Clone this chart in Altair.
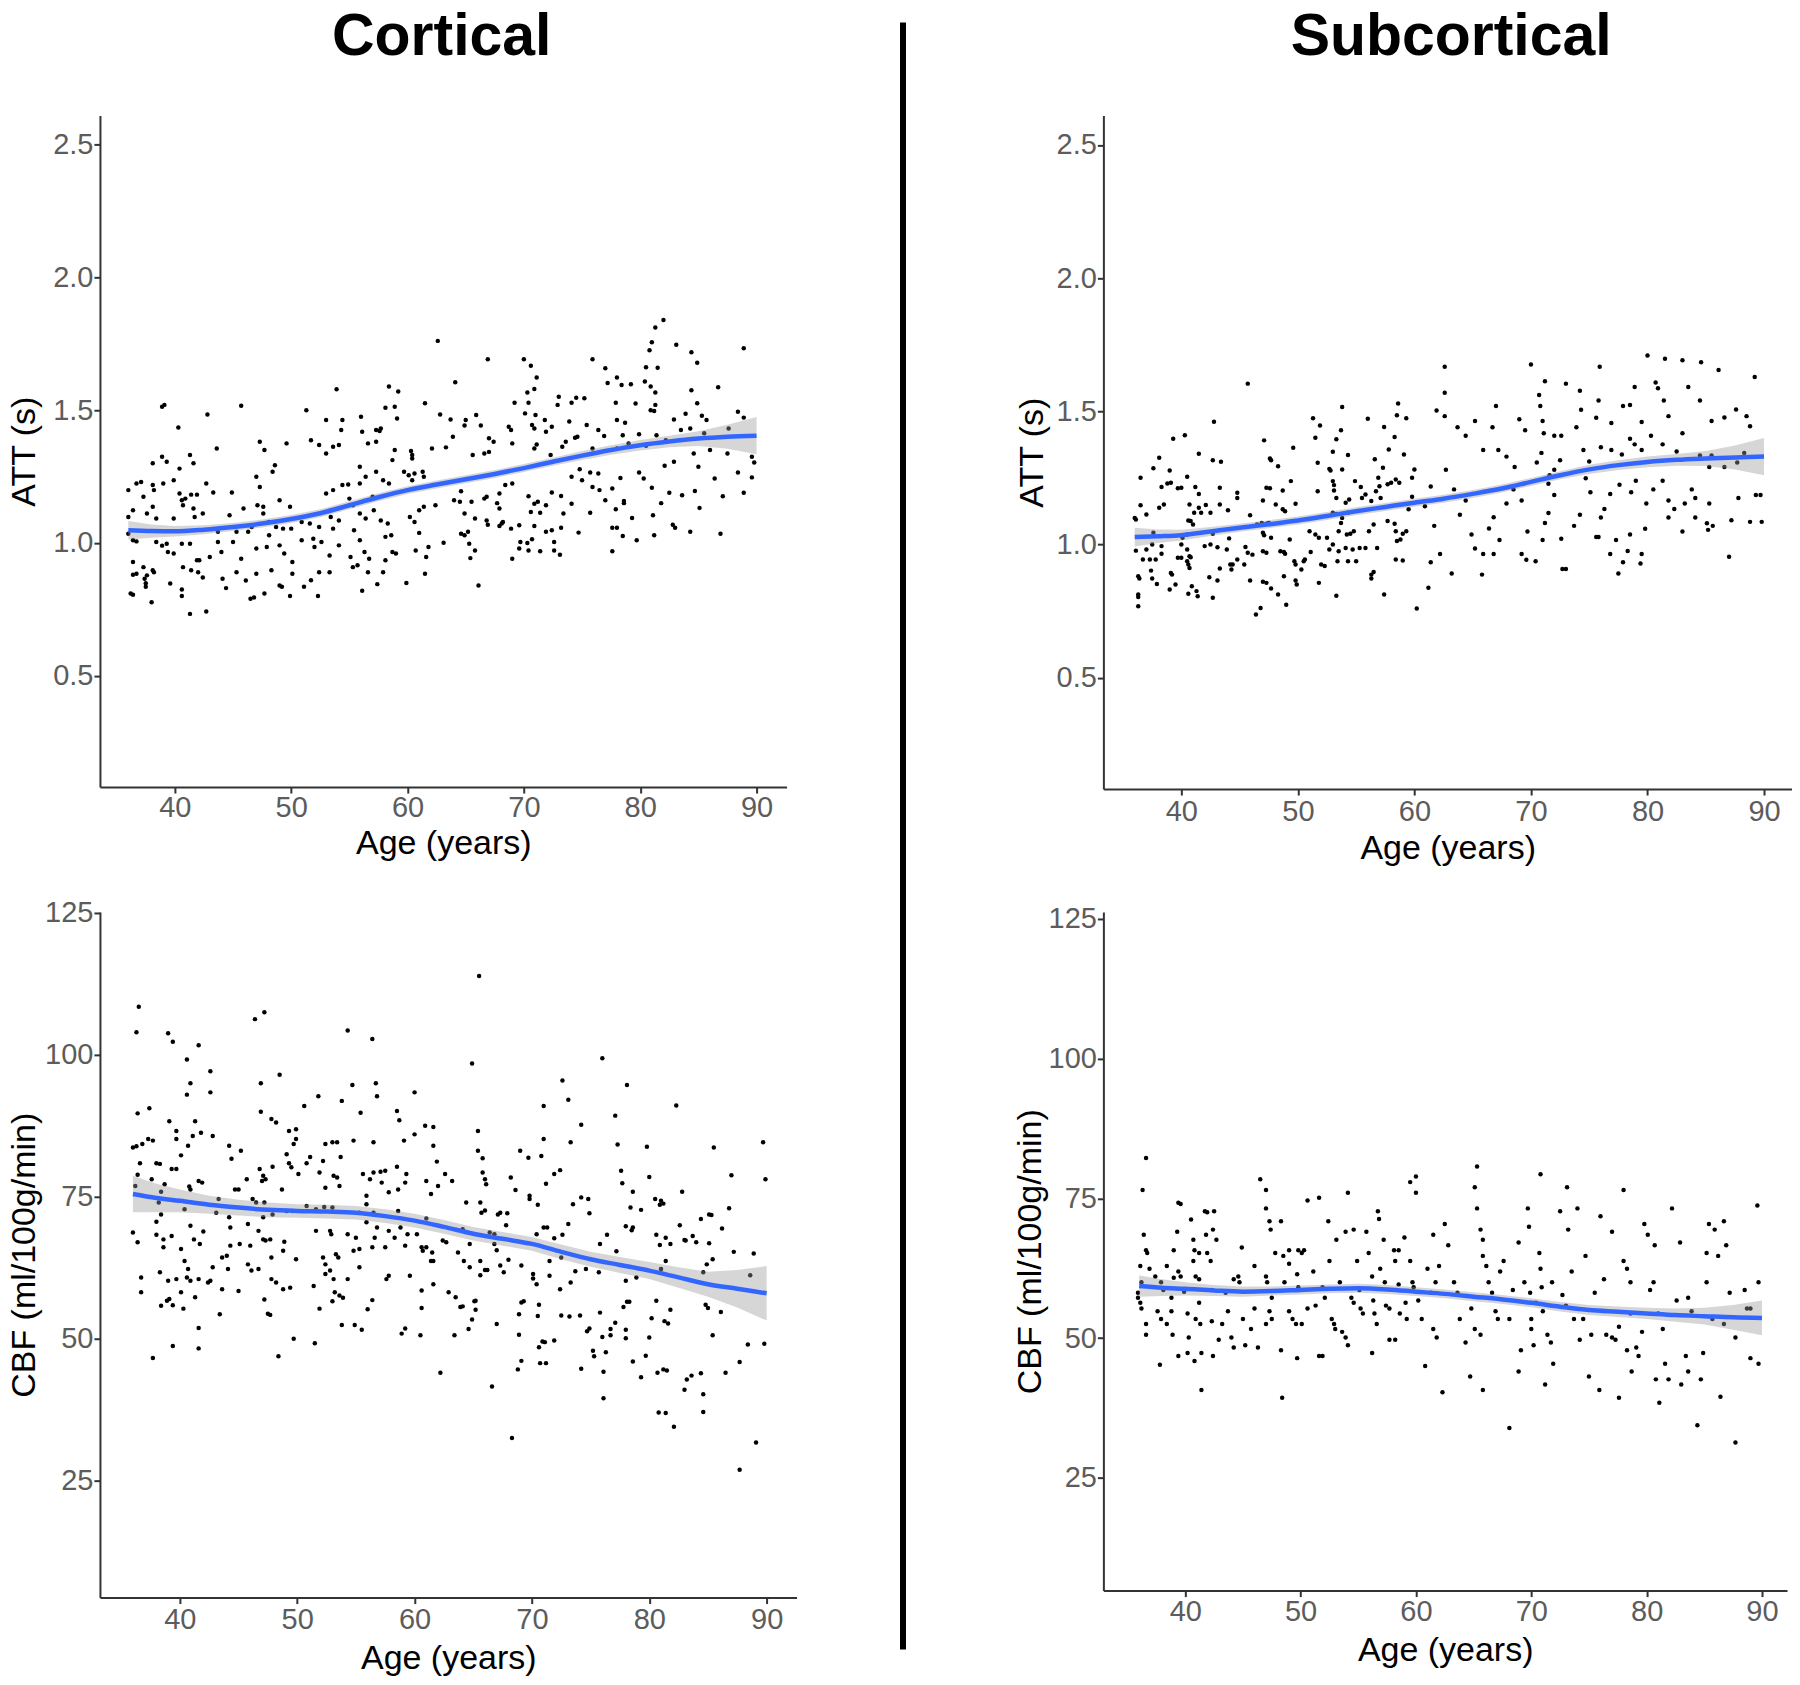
import altair as alt
import pandas as pd

# ---------------- data ----------------
X_TICKS = [40, 50, 60, 70, 80, 90]
ATT_TICKS = [0.5, 1.0, 1.5, 2.0, 2.5]
CBF_TICKS = [25, 50, 75, 100, 125]
PANEL_TITLES = ["Cortical", "Subcortical"]

LINE_AGES = [36, 38, 40, 42.5, 45, 47.5, 50, 52.5, 55, 57.5, 60, 62.5, 65, 67.5, 70, 72.5, 75, 77.5, 80, 82.5, 85, 87.5, 90]

TL_FIT = [1.048, 1.045, 1.044, 1.05, 1.06, 1.073, 1.09, 1.112, 1.142, 1.172, 1.199, 1.22, 1.24, 1.26, 1.282, 1.306, 1.329, 1.35, 1.368, 1.382, 1.393, 1.4, 1.404]
TL_HW = [0.035, 0.025, 0.02, 0.017, 0.015, 0.015, 0.015, 0.015, 0.015, 0.015, 0.015, 0.015, 0.015, 0.015, 0.015, 0.015, 0.017, 0.018, 0.02, 0.022, 0.028, 0.045, 0.07]

BL_FIT = [75.5, 74.8, 74.3, 73.6, 73.1, 72.7, 72.5, 72.4, 72.2, 71.6, 70.8, 69.7, 68.5, 67.6, 66.7, 65.3, 64.0, 63.0, 62.0, 60.8, 59.6, 58.8, 58.0]
BL_HW = [3.2, 2.5, 2.0, 1.6, 1.4, 1.3, 1.2, 1.2, 1.2, 1.2, 1.2, 1.2, 1.2, 1.2, 1.2, 1.3, 1.3, 1.4, 1.5, 1.8, 2.2, 3.3, 4.8]

TR_FIT = [1.028, 1.031, 1.035, 1.049, 1.063, 1.076, 1.09, 1.107, 1.125, 1.141, 1.157, 1.172, 1.19, 1.21, 1.235, 1.26, 1.282, 1.298, 1.31, 1.318, 1.323, 1.327, 1.33]
TR_HW = [0.035, 0.025, 0.02, 0.017, 0.015, 0.015, 0.015, 0.015, 0.015, 0.015, 0.015, 0.015, 0.015, 0.015, 0.015, 0.015, 0.017, 0.018, 0.02, 0.022, 0.028, 0.045, 0.07]

BR_FIT = [59.3, 59.0, 58.8, 58.5, 58.3, 58.4, 58.6, 58.8, 58.9, 58.7, 58.3, 57.9, 57.4, 56.9, 56.3, 55.6, 55.0, 54.7, 54.4, 54.1, 53.9, 53.7, 53.6]
BR_HW = [1.9, 1.5, 1.2, 1.0, 0.9, 0.8, 0.8, 0.8, 0.8, 0.8, 0.8, 0.8, 0.8, 0.8, 0.8, 0.85, 0.9, 0.95, 1.0, 1.2, 1.5, 2.2, 3.1]

TL_POINTS = [
(53.9,1.579),(58.4,1.589),(59.2,1.57),(39.1,1.52),(38.9,1.513),(45.7,1.517),(42.8,1.484),(40.3,1.435),(51.3,1.5),(53.0,1.463),(54.4,1.463),(54.3,1.425),(56.0,1.475),(56.1,1.419),(57.3,1.425),(57.7,1.431),(58.1,1.509),(58.9,1.513),(59.1,1.469),(43.6,1.356),(47.3,1.381),(47.7,1.35),(49.6,1.375),(51.7,1.387),(52.4,1.369),(53.0,1.337),(53.6,1.362),(54.1,1.369),(56.6,1.375),(57.3,1.381),(57.6,1.422),(58.9,1.35),(58.7,1.312),(38.9,1.325),(38.1,1.3),(41.3,1.331),(39.3,1.306),(48.6,1.293),(48.4,1.268),(40.4,1.28),(41.6,1.3),(55.9,1.287),(57.3,1.268),
(36.0,1.199),(36.7,1.224),(37.1,1.23),(38.1,1.218),(39.0,1.224),(39.9,1.236),(37.3,1.174),(38.2,1.199),(40.4,1.186),(40.9,1.167),(41.4,1.182),(41.9,1.182),(42.7,1.224),(43.3,1.19),(44.9,1.19),(47.0,1.249),(47.3,1.211),(47.1,1.142),(47.6,1.136),(49.0,1.161),(49.9,1.136),(53.0,1.186),(53.6,1.199),(54.4,1.218),(54.9,1.22),(55.9,1.224),(56.4,1.249),(57.9,1.236),(58.4,1.224),
(36.0,1.098),(36.4,1.123),(37.6,1.111),(38.1,1.136),(38.4,1.092),(39.9,1.092),(40.6,1.161),(40.7,1.142),(41.6,1.13),(41.7,1.098),(42.4,1.111),(43.7,1.042),(44.7,1.104),(45.9,1.13),(46.6,1.06),(47.6,1.111),(48.1,1.079),(48.7,1.06),(49.3,1.054),(50.0,1.054),(50.9,1.079),(51.6,1.073),(52.4,1.06),(52.9,1.117),(53.4,1.098),(53.6,1.054),(54.1,1.085),(55.0,1.167),(55.3,1.142),(55.4,1.048),(55.9,1.111),(56.4,1.092),(57.0,1.174),(57.1,1.123),(57.7,1.085),(58.3,1.073),(58.6,1.029),
(36.0,1.035),(36.4,1.01),(36.7,1.006),(38.4,1.004),(38.9,0.99),(39.3,0.997),(39.4,0.966),(39.9,0.96),(40.6,0.997),(41.3,0.997),(41.9,0.935),(42.1,0.935),(43.0,0.947),(43.7,1.004),(44.0,0.966),(45.0,1.004),(45.3,1.042),(45.7,0.941),(46.3,1.042),(47.0,0.979),(47.9,0.985),(48.1,1.029),(49.0,0.991),(49.4,0.96),(50.1,0.928),(50.9,1.01),(51.9,1.016),(52.0,0.985),(52.6,1.004),(53.3,0.953),(54.1,0.991),(55.1,0.947),(55.9,1.01),(56.3,0.966),(56.7,0.941),(58.1,1.023),(58.7,0.966),
(36.4,0.928),(36.7,0.884),(37.3,0.909),(38.1,0.897),(37.6,0.878),(39.6,0.847),(40.7,0.909),(41.4,0.897),(42.0,0.89),(44.1,0.865),(45.3,0.89),(46.1,0.859),(47.0,0.884),(48.3,0.897),(50.1,0.884),(52.4,0.89),(53.3,0.89),(55.3,0.909),(55.7,0.916),(56.6,0.89),(57.9,0.89),(58.1,0.935),(59.0,0.96),
(41.3,0.733),(42.7,0.742),(38.0,0.777),(36.4,0.805),(36.2,0.81),(40.6,0.80),(40.6,0.825),(46.5,0.79),(46.8,0.795),(47.7,0.81),(49.9,0.80),(51.1,0.835),(52.3,0.80),(51.7,0.86),(56.1,0.82),(57.4,0.845),(49.0,0.84),(49.2,0.835),(44.4,0.83),(37.5,0.835),(37.5,0.848),(42.4,0.87),(37.4,0.865),(36.4,0.88),(38.2,0.89),
(82.0,1.84),(81.3,1.811),(62.6,1.761),(81.0,1.756),(80.8,1.726),(88.9,1.733),(83.1,1.746),(84.4,1.718),(84.9,1.679),(66.9,1.692),(70.0,1.692),(70.6,1.667),(75.9,1.692),(77.0,1.658),(80.5,1.662),(81.5,1.66),(71.1,1.623),(64.1,1.605),(78.0,1.623),(77.2,1.602),(78.4,1.595),(79.2,1.598),(80.4,1.608),(80.9,1.589),(81.3,1.567),(84.4,1.575),(86.7,1.586),(70.9,1.58),(70.3,1.567),(73.0,1.551),(72.9,1.52),(74.5,1.547),(75.2,1.545),(74.1,1.528),(69.2,1.528),(70.4,1.528),(61.5,1.526),(77.9,1.528),(79.6,1.525),(80.9,1.5),(81.3,1.52),(81.2,1.497),(84.9,1.526),(70.1,1.488),(71.0,1.482),(71.8,1.463),(62.8,1.484),(63.7,1.465),(65.0,1.463),(65.9,1.482),(66.3,1.442),(64.9,1.442),(83.9,1.487),(85.3,1.479),(85.7,1.463),(88.4,1.494),(88.9,1.472),(82.9,1.465),(73.9,1.457),(75.4,1.444),(76.4,1.425),(78.0,1.463),(78.7,1.453),(72.4,1.438),(71.9,1.419),(70.9,1.431),(70.7,1.444),(68.9,1.425),(68.7,1.438),(63.9,1.4),(67.0,1.394),(67.4,1.381),(69.0,1.375),(74.6,1.4),(74.4,1.396),(76.9,1.403),(78.5,1.406),(79.9,1.409),(81.4,1.406),(82.2,1.387),(83.5,1.425),(84.3,1.431),(85.5,1.413),(87.6,1.431),(89.6,1.325),(89.8,1.303),(63.3,1.36),(60.3,1.346),(60.4,1.331),(65.6,1.331),(66.6,1.337),(67.0,1.343),(70.9,1.356),(71.1,1.371),(72.3,1.331),(73.3,1.362),(73.6,1.381),(75.9,1.356),(78.0,1.356),(79.0,1.375),(80.5,1.366),(84.6,1.337),(86.0,1.35),(87.5,1.337),(82.9,1.306),(82.1,1.291),(85.0,1.287),(86.4,1.243),(88.4,1.265),(89.6,1.247),(87.1,1.176),(88.9,1.189),(84.7,1.196),(83.6,1.18),(82.5,1.189),(81.0,1.208),(80.3,1.243),(79.9,1.265),(78.3,1.245),(76.4,1.262),(75.7,1.265),(74.8,1.278),(74.1,1.249),(75.0,1.236),(75.9,1.211),(76.5,1.199),(77.6,1.205),(77.0,1.161),(78.6,1.158),(73.2,1.177),(72.4,1.19),(70.4,1.176),(71.2,1.155),(69.0,1.224),(68.4,1.218),(67.9,1.186),(66.8,1.174),(66.6,1.167),(64.6,1.195),(60.4,1.236),(60.6,1.262),(60.1,1.255),(61.3,1.268),(59.7,1.268),(60.4,1.318),(62.1,1.356),(61.4,1.249),(64.0,1.161),(64.5,1.155),(65.5,1.155),
(64.9,1.111),(65.8,1.092),(66.8,1.085),(66.9,1.069),(67.9,1.064),(68.2,1.079),(67.7,1.15),(67.9,1.13),(62.4,1.142),(61.4,1.136),(61.0,1.038),(60.7,0.972),(61.8,0.985),(61.6,0.947),(61.5,0.884),(59.9,0.849),(63.1,1.001),(64.6,1.035),(64.9,1.029),(65.3,0.997),(65.8,0.972),(65.4,0.943),(66.1,0.84),(68.9,1.054),(68.1,1.073),(69.0,0.941),(69.6,1.067),(69.7,1.004),(69.6,0.979),(70.3,1.0),(70.4,0.972),(70.9,1.064),(70.7,1.014),(71.4,0.969),(72.4,1.048),(72.6,1.004),(72.6,0.972),(73.1,0.956),(73.2,1.057),(73.4,1.111),(74.7,1.039),(70.6,1.117),(70.9,1.148),(71.4,1.114),(71.9,1.142),(74.1,1.148),(75.7,1.114),(77.9,1.127),(77.6,1.057),(78.0,1.057),(77.6,0.969),(78.5,1.026),(78.6,1.15),(79.3,1.094),(79.7,1.01),(81.1,1.104),(81.2,1.029),(81.8,1.15),(82.8,1.069),(83.0,1.057),(84.3,1.042),(85.1,1.132),(86.9,1.035),(60.2,1.098),(60.6,1.079),(61.0,1.123),(65.2,1.042),(71.9,1.042),
]

BL_POINTS = [
(36.5,108.5),(36.3,104.0),(46.4,106.3),(47.2,107.5),(39.0,103.8),(39.4,102.3),(41.6,101.7),(40.6,99.2),(40.9,95.0),(40.6,93.0),(42.6,97.1),(42.6,93.4),(48.5,96.5),(46.9,95.0),(54.3,104.3),(56.4,102.8),(54.7,94.7),(56.7,95.0),(56.8,92.7),(53.8,91.9),(51.8,92.7),(50.6,91.0),(60.0,93.4),(36.4,89.7),(37.4,90.6),(46.9,90.0),(47.8,88.7),(48.2,88.1),(55.4,89.8),(58.5,90.1),(58.7,88.5),(60.9,87.5),(61.6,87.3),(61.6,84.0),(61.9,81.2),(60.0,86.0),(59.1,84.9),(49.3,86.6),(49.9,86.9),(49.9,85.2),(36.0,83.7),(36.3,83.9),(36.8,84.3),(37.3,85.2),(37.7,84.9),(39.1,88.3),(39.7,86.6),(39.7,85.2),(41.3,88.3),(41.1,85.7),(40.7,84.0),(41.8,86.3),(42.8,85.7),(44.2,84.0),(44.4,81.7),(45.2,83.1),(46.8,79.9),(47.1,78.7),(47.3,78.1),(47.0,77.8),(47.9,80.3),(49.1,82.5),(49.3,80.9),(49.5,80.2),(49.7,84.3),(50.1,79.0),(51.1,82.0),(50.8,80.9),(52.4,84.3),(53.0,84.6),(53.4,84.6),(53.7,82.0),(52.2,81.3),(51.9,79.3),(52.4,76.6),(53.1,78.7),(53.4,78.4),(53.6,76.9),(54.8,84.9),(56.5,84.6),(55.6,79.0),(56.2,78.1),(56.5,79.3),(57.1,79.4),(57.5,79.6),(58.5,80.3),(59.3,79.0),(59.2,77.5),(57.2,77.5),(57.8,75.8),(58.6,76.3),(55.9,75.2),(55.9,73.7),(61.0,77.8),(61.4,75.5),(62.0,76.9),(62.6,79.0),(61.0,71.2),(36.2,76.9),(36.4,78.9),(36.6,80.9),(38.0,80.9),(38.3,80.8),(37.6,78.1),(38.7,77.2),(39.3,79.9),(39.7,79.9),(40.1,82.3),(38.4,75.9),(38.2,74.0),(38.4,71.9),(38.0,70.6),(40.4,72.8),(40.9,76.3),(40.8,76.8),(41.6,77.8),(41.9,77.5),(43.3,74.6),(43.1,72.2),(44.2,71.4),(44.3,69.6),(44.7,76.3),(45.0,76.3),(45.7,78.1),(46.2,74.6),(46.5,74.0),(47.2,74.0),(47.1,71.4),(47.9,71.9),(48.7,76.3),(49.1,72.5),(49.6,72.5),(50.8,73.4),(51.6,72.8),(52.3,73.2),(53.0,73.1),(55.3,72.2),(55.9,70.5),(56.5,72.2),(56.8,69.6),(57.8,69.0),(58.6,72.5),(58.8,69.6),(59.4,68.4),(60.2,68.4),(60.7,65.5),(61.6,63.7),(62.4,67.3),(36.0,68.7),(36.4,67.0),(38.0,68.3),(38.6,67.5),(38.6,66.1),(39.3,68.1),(40.1,65.8),(40.4,63.7),(40.6,60.8),(40.9,69.9),(41.2,67.5),(41.7,66.7),(42.0,68.9),(42.8,62.6),(42.6,60.2),(43.6,64.3),(44.0,64.6),(44.3,66.4),(44.1,62.3),(45.1,66.7),(45.8,70.2),(46.0,66.4),(45.8,63.1),(46.7,69.0),(47.1,67.5),(47.3,67.3),(47.7,67.5),(47.8,64.3),(48.8,65.5),(48.9,67.1),(49.9,64.0),(52.2,64.3),(52.4,63.1),(51.6,69.0),(52.8,69.0),(52.9,68.4),(53.5,64.3),(53.3,64.9),(54.3,68.4),(54.8,65.5),(55.0,67.8),(55.3,65.8),(56.4,66.1),(56.6,67.8),(57.5,66.1),(58.3,67.8),(59.2,66.4),(60.6,66.1),(61.0,66.1),(61.5,65.2),(61.4,63.7),(62.7,67.0),(36.7,60.8),(36.7,58.2),(38.3,61.7),(39.0,60.2),(39.7,60.5),(40.9,60.2),(41.6,60.5),(42.4,59.9),(40.7,62.3),(40.1,58.2),(43.6,58.7),(45.0,58.4),(46.1,62.0),(46.7,62.3),(47.8,60.5),(48.2,59.9),(48.8,58.7),(49.4,59.0),(51.4,59.3),(52.4,61.4),(52.8,62.0),(53.1,60.5),(53.2,58.2),(54.3,60.5),(55.3,62.6),(57.6,60.5),(57.8,61.1),(59.6,61.1),(61.6,59.6),(60.6,58.5),(62.9,58.2),
(38.4,55.8),(39.1,57.0),(38.9,56.7),(39.4,55.9),(40.3,55.3),(41.6,51.9),(41.6,48.3),(39.4,48.7),(37.7,46.6),(43.4,54.3),(41.3,57.3),(47.2,56.9),(47.5,54.4),(47.7,54.2),(48.4,46.9),(49.7,50.0),(51.5,49.2),(51.9,55.3),(53.0,56.6),(53.6,57.6),(53.9,57.2),(53.8,52.4),(54.9,52.4),(55.5,51.6),(56.0,55.2),(56.4,56.8),(58.9,50.9),(59.2,51.8),(60.5,50.6),(60.6,55.4),(62.2,44.0),
(65.5,113.9),(64.9,98.5),(76.0,99.4),(72.6,95.5),(78.1,94.7),(73.1,92.1),(71.0,91.0),(77.1,89.3),(82.3,91.1),(74.2,87.7),(65.4,86.6),(71.0,85.2),(73.3,84.6),(77.3,84.2),(79.8,83.8),(85.5,83.7),(89.7,84.6),(65.4,83.1),(65.8,81.8),(69.0,83.1),(69.7,81.9),(70.8,82.2),(63.2,77.8),(65.8,79.3),(66.0,78.1),(66.1,77.2),(68.2,78.4),(68.6,76.2),(69.8,75.2),(69.8,74.6),(71.2,77.3),(71.9,79.0),(72.4,79.7),(70.5,73.6),(73.5,73.7),(74.2,74.9),(74.8,74.6),(74.9,72.1),(77.6,79.6),(77.7,77.4),(78.6,75.9),(78.4,73.1),(79.3,72.7),(80.0,78.5),(80.5,74.6),(81.0,74.3),(81.2,73.8),(80.9,73.6),(82.8,75.9),(87.0,78.8),(89.9,78.1),(86.8,73.0),(85.1,71.9),(85.3,71.8),(84.4,71.1),(86.2,69.4),(82.6,70.0),(81.4,67.8),(80.6,68.3),(80.9,66.5),(81.8,66.7),(83.0,67.4),(83.1,67.3),(83.7,68.1),(84.0,67.0),(85.1,66.8),(87.2,65.3),(88.9,65.0),(85.4,64.0),(84.9,63.1),(81.4,63.7),(81.0,62.3),(84.6,61.7),(88.6,61.2),(78.6,69.6),(78.5,69.1),(78.0,69.8),(76.4,68.3),(75.8,66.7),(77.2,65.4),(73.1,70.2),(72.6,68.3),(71.0,69.6),(71.3,69.6),(70.4,68.4),(71.9,67.7),(67.8,70.0),(67.3,72.2),(67.1,71.9),(67.9,72.1),(65.7,72.2),(66.0,72.6),(65.6,74.0),(64.4,74.0),(66.4,68.7),(66.8,68.4),(67.0,65.6),(66.8,66.7),(64.1,69.3),(64.7,66.7),(63.7,65.2),(64.2,63.7),(64.7,62.6),(65.6,63.7),(66.2,62.1),(66.0,62.1),(65.6,61.2),(67.3,62.9),(67.6,61.7),(68.0,63.9),(69.1,62.9),(70.1,61.4),(70.1,60.6),(70.4,59.6),(71.5,63.7),(71.5,61.1),(72.5,64.3),(73.7,61.9),(74.6,62.3),(75.7,61.7),(78.0,60.2),(78.9,60.8),(73.3,59.9),(72.4,58.7),
(63.5,57.3),(63.9,55.6),(64.1,55.7),(65.1,56.6),(65.2,56.7),(64.6,51.7),(64.9,53.4),(65.2,55.1),(63.4,50.6),(67.0,52.6),(66.6,41.6),(68.3,32.5),(68.9,54.3),(68.9,50.7),(69.1,56.4),(69.3,56.6),(69.1,46.1),(68.8,44.6),(70.5,54.0),(70.6,56.0),(70.6,48.5),(70.9,49.5),(70.7,45.7),(71.2,45.7),(71.1,49.4),(71.9,49.7),(72.5,54.1),(73.2,53.9),(74.1,54.1),(74.2,44.7),(74.7,51.3),(74.9,51.8),(75.2,47.9),(75.3,46.9),(76.0,50.3),(76.1,44.2),(76.1,39.5),(75.8,54.6),(76.3,47.6),(76.7,51.7),(76.7,50.6),(77.1,52.8),(77.8,55.6),(78.1,56.5),(78.3,56.5),(78.0,51.6),(78.0,50.1),(78.6,46.0),(79.7,47.0),(79.3,43.2),(80.0,50.2),(80.2,53.6),(80.6,56.7),(80.7,44.0),(80.8,37.0),(81.4,36.9),(81.2,44.6),(81.5,44.4),(81.3,53.1),(81.6,52.7),(81.8,55.1),(82.1,34.5),(83.0,41.0),(83.2,42.8),(83.6,43.5),(84.4,43.9),(84.6,40.2),(84.6,37.1),(84.8,56.0),(85.0,55.4),(85.4,50.6),(86.1,54.7),(86.5,44.0),(87.7,45.9),(87.7,26.9),(88.4,49.0),(89.1,31.7),(89.8,49.1),
]

TR_POINTS = [
(45.7,1.604),(42.8,1.461),(40.3,1.41),(39.3,1.397),(38.1,1.326),(37.6,1.286),(36.5,1.251),(41.5,1.341),(39.0,1.278),(39.1,1.232),(38.8,1.229),(39.7,1.211),(40.0,1.213),(38.3,1.216),(40.5,1.254),(41.2,1.216),(41.5,1.19),(42.7,1.316),(43.4,1.311),(43.3,1.213),(44.8,1.194),(44.8,1.175),(47.1,1.391),(47.6,1.323),(47.7,1.316),(48.3,1.294),(49.6,1.363),(49.4,1.238),(48.7,1.203),(47.6,1.211),(47.3,1.213),(47.0,1.165),(49.8,1.153),(51.3,1.474),(51.9,1.447),(51.5,1.401),(51.7,1.307),(51.7,1.2),(53.8,1.516),(53.7,1.429),(53.3,1.395),(54.3,1.336),(53.0,1.348),(52.7,1.284),(52.8,1.278),(53.8,1.282),(53.0,1.238),(53.1,1.223),(53.1,1.203),(53.3,1.175),(54.9,1.238),(55.4,1.216),(55.5,1.175),(56.0,1.472),(57.4,1.441),(58.3,1.404),(56.6,1.32),(57.3,1.288),(57.8,1.357),(58.5,1.485),(58.6,1.529),(59.3,1.474),(59.1,1.338),(58.4,1.244),(58.7,1.232),(56.9,1.251),(57.0,1.219),(57.7,1.226),(58.0,1.232),(56.7,1.2),(57.1,1.175),(56.3,1.163),(55.8,1.188),(60.0,1.282),(59.8,1.251),(59.8,1.179),
(36.0,1.1),(36.1,1.094),(36.5,1.147),(37.0,1.113),(38.1,1.138),(38.5,1.15),(37.6,1.044),(38.3,0.994),(38.3,0.965),(37.5,1.0),(37.0,0.981),(36.1,0.977),(36.7,0.944),(37.3,0.944),(37.8,0.944),(36.3,0.881),(36.4,0.872),(36.3,0.812),(36.3,0.803),(36.3,0.768),(37.4,0.902),(37.5,0.872),(37.9,0.852),(39.0,0.831),(39.2,0.887),(39.1,0.893),(39.5,0.85),(39.7,0.95),(40.0,0.95),(40.7,0.956),(40.8,0.952),(40.5,0.937),(40.6,0.925),(40.7,0.912),(40.0,1.0),(40.1,1.025),(40.5,1.038),(40.6,1.09),(40.8,1.088),(41.0,1.075),(41.1,1.119),(41.5,1.138),(41.7,1.119),(42.1,1.148),(40.7,1.15),(40.5,0.981),(42.0,0.994),(42.5,1.0),(43.1,0.99),(42.7,1.04),(42.5,1.119),(43.3,1.15),(44.0,1.129),(44.1,1.023),(43.9,0.981),(43.3,0.91),(43.1,0.865),(42.7,0.8),(42.4,0.877),(40.9,0.843),(41.3,0.825),(41.4,0.806),(40.6,0.815),(44.2,0.925),(44.4,0.925),(44.3,0.906),(44.8,0.944),(45.4,0.925),(45.5,0.991),(45.9,1.11),(46.5,1.075),(46.9,1.081),(47.3,1.078),(47.5,1.081),(45.7,0.969),(46.1,0.962),(45.9,0.865),(46.4,0.737),(46.8,0.762),(47.0,0.975),(47.3,0.969),(47.1,1.035),(47.0,1.044),(47.7,1.025),(47.0,0.86),(47.3,0.856),(47.7,0.835),(48.3,0.812),(49.0,0.774),(48.8,0.881),(48.5,0.975),(48.8,0.972),(48.9,0.965),(48.1,1.15),(48.7,1.132),(48.9,1.125),(49.3,1.019),(49.8,0.925),(49.7,0.937),(50.5,0.937),(50.6,0.944),(50.3,0.906),(49.8,0.865),(49.9,0.85),(51.0,1.05),(51.5,1.038),(51.8,1.025),(51.1,0.972),(51.8,0.856),(52.0,0.925),(52.3,0.919),(52.7,0.981),(52.5,1.025),(53.0,1.0),(53.0,1.119),(53.3,1.115),(53.3,0.808),(53.5,0.975),(53.4,0.937),(53.7,1.081),(53.8,1.1),(54.1,1.157),(54.4,1.169),(54.3,1.119),(54.2,1.038),(53.5,1.05),(54.5,1.04),(54.8,1.05),(54.1,0.987),(54.7,0.981),(54.3,0.937),(55.0,0.937),(55.3,0.987),(55.8,0.987),(56.3,0.887),(56.3,0.872),(56.5,0.897),(56.1,1.05),(56.5,1.075),(56.8,0.987),(57.4,0.812),(57.7,1.088),(58.3,1.078),(58.4,1.05),(58.4,0.944),(59.0,0.94),(58.5,1.013),(58.8,1.019),(59.0,1.04),(59.3,1.05),(59.5,1.132),
(62.6,1.667),(70.0,1.676),(71.2,1.613),(73.0,1.604),(75.9,1.667),(80.0,1.71),(81.5,1.697),(83.0,1.692),(84.6,1.684),(86.1,1.655),(89.2,1.629),(80.7,1.608),(80.9,1.587),(78.9,1.591),(83.5,1.591),(74.2,1.577),(75.8,1.541),(70.7,1.561),(70.8,1.52),(67.0,1.52),(65.2,1.464),(66.7,1.44),(69.0,1.47),(69.5,1.429),(71.0,1.464),(71.1,1.418),(72.0,1.408),(72.6,1.408),(73.9,1.44),(74.3,1.506),(75.6,1.476),(76.9,1.456),(77.9,1.52),(78.5,1.524),(79.5,1.46),(81.4,1.541),(81.8,1.482),(83.0,1.418),(84.5,1.541),(86.6,1.477),(85.5,1.464),(87.6,1.507),(88.5,1.482),(88.8,1.444),(62.6,1.57),(62.6,1.482),(61.9,1.503),(63.7,1.44),(64.4,1.408),(65.9,1.355),(67.2,1.355),(67.9,1.33),(68.6,1.291),(70.5,1.308),(70.9,1.344),(72.0,1.281),(72.5,1.316),(74.5,1.355),(75.0,1.312),(76.0,1.365),(76.9,1.355),(77.8,1.338),(78.5,1.397),(78.9,1.376),(79.5,1.355),(80.3,1.408),(81.3,1.376),(82.5,1.349),(84.5,1.334),(85.5,1.334),(85.3,1.291),(86.6,1.291),(88.3,1.344),(87.7,1.308),(89.3,1.186),(89.7,1.186),(89.8,1.085),(88.8,1.085),(87.2,1.091),(87.8,1.175),(87.0,0.954),(85.3,1.154),(85.6,1.07),(85.1,1.08),(85.2,1.055),(84.1,1.175),(84.1,1.101),(83.2,1.154),(83.0,1.049),(82.3,1.133),(81.8,1.101),(81.3,1.239),(80.5,1.207),(79.9,1.154),(79.8,1.059),(79.5,0.964),(79.4,0.929),(78.5,1.038),(78.3,0.976),(77.9,0.933),(77.5,0.891),(78.6,1.196),(77.6,1.224),(76.8,1.19),(76.3,1.133),(75.6,1.028),(75.1,1.196),(74.7,1.249),(74.2,1.112),(73.7,1.07),(73.0,0.908),(72.7,0.908),(72.6,1.022),(72.0,1.186),(71.5,1.118),(71.2,1.081),(71.0,1.017),(70.4,0.937),(69.6,0.943),(69.7,1.049),(69.2,0.964),(69.2,1.165),(68.5,1.207),(67.9,1.154),(66.8,1.102),(66.4,1.06),(67.3,1.017),(66.8,0.964),(65.9,0.964),(65.8,0.887),(65.2,0.985),(64.9,1.038),(64.4,1.165),(63.9,1.112),(63.4,1.207),(62.7,1.281),(61.4,1.218),(60.9,1.144),(61.7,1.07),(61.2,0.838),(60.2,0.76),(62.2,0.964),(61.4,0.933),(63.2,0.891),(77.3,1.017),(76.8,0.964),(76.0,1.101),(75.8,1.028),(83.8,1.207),(81.8,1.165),(79.0,1.239),(71.5,1.228),(71.6,1.26),
]

BR_POINTS = [
(36.6,82.2),(36.3,76.5),(36.4,68.5),(36.6,65.7),(36.7,65.2),(36.1,62.9),(36.2,60.0),(35.9,58.1),(35.9,57.2),(36.1,56.3),(36.2,55.3),(36.6,52.5),(36.6,50.6),(36.9,62.4),(37.4,61.0),(37.9,60.0),(38.1,58.6),(37.6,54.8),(37.9,53.4),(37.8,45.2),(38.4,52.5),(38.8,54.8),(39.0,60.8),(39.4,61.9),(39.6,61.0),(39.0,65.7),(39.3,69.0),(39.4,74.2),(39.6,74.0),(38.4,62.9),(38.8,57.2),(38.9,50.6),(39.4,46.8),(39.9,58.3),(40.2,54.4),(40.3,50.1),(40.2,47.3),(40.5,71.2),(40.7,67.6),(40.8,65.7),(41.2,65.2),(40.9,61.0),(41.2,60.5),(40.7,63.8),(41.2,56.3),(40.9,53.4),(41.3,52.5),(40.8,45.9),(41.4,40.7),(41.4,47.3),(41.7,72.7),(41.9,72.5),(41.8,68.5),(41.9,65.2),(42.2,63.8),(42.5,72.7),(42.4,69.4),(42.7,67.6),(42.3,58.6),(42.3,53.0),(42.4,46.8),(42.9,49.7),(43.2,52.5),(43.5,58.1),(43.7,54.8),(44.0,50.1),(44.2,60.5),(44.6,61.0),(44.7,60.0),(45.0,53.4),(45.2,48.7),(44.2,48.3),(44.9,66.2),(46.0,62.9),(46.0,55.3),(45.7,51.6),(46.3,48.3),(46.5,78.4),(47.0,76.5),(47.0,73.2),(47.3,70.9),(47.4,69.4),(47.8,65.2),(47.0,61.0),(47.1,60.0),(47.5,57.2),(47.3,54.8),(47.5,53.4),(47.0,52.5),(48.3,70.9),(48.3,47.8),(48.4,39.3),(48.5,64.7),(48.6,60.0),(49.0,63.3),(49.0,54.8),(49.3,53.4),(49.6,52.5),(49.0,65.7),(49.7,61.4),(49.8,65.7),(50.1,65.2),(50.3,65.7),(49.7,46.4),(49.8,59.1),(50.1,52.5),(50.6,55.3),(50.6,74.6),(51.1,61.9),(51.6,75.1),(51.6,46.8),(51.9,46.8),(51.3,55.8),(51.9,59.1),(52.1,57.2),(52.4,70.9),(52.5,63.8),(52.7,53.4),(52.9,52.5),(53.0,51.6),(53.1,67.6),(53.4,60.0),(53.6,51.1),(53.9,50.1),(54.1,48.7),(54.4,57.2),(54.6,56.3),(54.1,76.0),(53.9,69.0),(54.6,69.4),(54.9,63.8),(55.1,58.6),(55.2,55.3),(55.4,54.4),(55.7,69.0),(55.9,65.2),(56.2,61.0),(56.3,56.7),(56.4,54.4),(56.6,52.5),(56.7,72.7),(56.8,71.3),(56.2,47.3),(56.9,62.4),(57.2,67.6),(57.3,60.0),(57.4,55.8),(57.7,55.3),(57.7,49.7),(58.1,65.7),(58.5,65.7),(58.2,63.8),(58.5,59.6),(58.6,54.4),(58.2,49.7),(59.0,68.0),(59.1,56.3),(59.2,53.4),(59.5,77.9),(60.0,78.9),(60.0,76.0),(59.5,63.8),(59.7,60.0),(59.8,59.1),(60.2,56.7),(60.5,53.4),(60.8,45.0),(61.0,62.4),(61.3,58.1),(61.5,68.5),(61.7,60.0),(62.0,62.9),(61.5,51.6),(61.8,50.1),(62.3,40.3),(62.5,70.4),(62.8,66.6),(63.3,60.0),(63.6,58.1),(63.8,53.4),(64.3,49.2),(64.8,55.3),(64.7,43.1),(65.1,77.0),(65.3,80.7),(65.3,73.2),(65.6,69.4),(65.8,67.6),(65.8,64.7),(65.1,51.6),(65.6,50.6),(65.8,40.7),(66.1,62.9),(66.3,60.0),(66.6,58.1),(66.9,54.8),(67.1,53.4),(67.3,61.9),(67.6,63.8),(68.1,53.4),(68.1,33.9),(68.4,58.6),(68.9,67.1),(68.9,44.0),(69.1,47.8),(69.4,60.0),(69.7,73.2),(69.8,69.9),(69.9,58.1),(70.0,53.4),(70.0,51.6),(70.2,48.7),(70.4,56.3),(70.7,65.2),(70.8,79.3),(70.8,62.4),(70.9,59.1),(71.0,54.8),(71.2,41.7),(71.4,50.6),(71.7,49.2),(71.8,60.0),(71.9,45.4),(72.5,72.7),(72.7,57.7),(73.0,55.8),(73.1,77.0),(73.2,69.4),(73.5,61.9),(73.7,53.4),(74.0,73.2),(74.2,49.7),(74.5,53.4),(74.7,64.7),(75.0,43.1),(75.2,50.6),(75.5,58.1),(75.9,40.7),(76.0,71.8),(76.3,60.5),(76.5,50.6),(77.0,50.1),(77.0,69.0),(77.3,49.7),(77.6,39.3),(77.6,52.0),(78.0,76.5),(78.0,63.8),(78.3,62.4),(78.6,60.0),(78.6,54.4),(78.3,47.8),(78.7,44.0),(79.1,48.3),(79.3,46.8),(79.6,51.1),(79.8,70.4),(80.1,68.5),(80.3,58.6),(80.6,60.0),(80.7,66.6),(80.8,42.6),(81.1,38.4),(81.0,54.4),(81.4,51.6),(81.6,45.4),(81.9,42.6),(82.2,73.2),(82.6,56.7),(82.9,67.1),(83.0,41.7),(83.6,57.2),(83.4,46.8),(83.6,44.0),(83.9,54.8),(84.4,34.4),(84.7,42.6),(84.9,47.3),(85.2,65.2),(85.2,60.0),(85.4,70.4),(85.9,69.4),(85.7,53.4),(86.2,64.7),(86.4,39.5),(86.7,70.9),(86.9,66.6),(86.7,52.5),(87.2,58.1),(87.7,50.1),(87.7,31.3),(88.5,58.6),(88.7,55.3),(89.0,55.3),(89.0,46.4),(89.6,73.7),(89.7,60.0),(89.7,45.4),
]

# ---------------- chart construction ----------------
FONT = "Liberation Sans"


def make_panel(points, fit, hw, ytitle, xdomain, ydomain, yticks, yfmt, w, h,
               label_base, title_base, ytitle_x, extra=None):
    pts = pd.DataFrame(points, columns=["age", "v"])
    fitdf = pd.DataFrame({
        "age": LINE_AGES,
        "v": fit,
        "lo": [f - e for f, e in zip(fit, hw)],
        "hi": [f + e for f, e in zip(fit, hw)],
    })
    xs = alt.Scale(domain=xdomain, nice=False, zero=False)
    ys = alt.Scale(domain=ydomain, nice=False, zero=False)
    xax = alt.Axis(values=X_TICKS, title="Age (years)", labelBaseline="alphabetic",
                   labelPadding=label_base - 6, titleY=title_base,
                   titleBaseline="alphabetic")
    yax = alt.Axis(values=yticks, format=yfmt, title=ytitle, titleX=ytitle_x,
                   titleBaseline="alphabetic", labelPadding=1)
    x = alt.X("age:Q", scale=xs, axis=xax)
    p = alt.Chart(pts).mark_circle(size=20, color="black", opacity=1).encode(
        x=x, y=alt.Y("v:Q", scale=ys, axis=yax))
    band = alt.Chart(fitdf).mark_area(color="#999999", opacity=0.4).encode(
        x=x, y=alt.Y("lo:Q", scale=ys, axis=yax), y2="hi:Q")
    line = alt.Chart(fitdf).mark_line(color="#3366FF", strokeWidth=4.5,
                                      interpolate="monotone").encode(
        x=x, y=alt.Y("v:Q", scale=ys, axis=yax))
    layers = [p, band, line] + (extra or [])
    return alt.layer(*layers).properties(width=w, height=h)


def title_layer(text, xpos):
    df = pd.DataFrame({"t": [text]})
    return alt.Chart(df).mark_text(font=FONT, fontWeight="bold", fontSize=59,
                                   align="center", baseline="alphabetic",
                                   color="black").encode(
        x=alt.value(xpos), y=alt.value(-60), text="t:N")


divider = alt.Chart(pd.DataFrame({"k": [0]})).mark_rule(
    color="black", strokeWidth=6).encode(
    x=alt.value(803.5), y=alt.value(-93), y2=alt.value(1535))

tl = make_panel(TL_POINTS, TL_FIT, TL_HW, "ATT (s)", [33.56, 92.58], [0.081, 2.61],
                ATT_TICKS, ".1f", 687, 672, 29, 67, -65,
                [title_layer(PANEL_TITLES[0], 342), divider])
tr = make_panel(TR_POINTS, TR_FIT, TR_HW, "ATT (s)", [33.31, 92.4], [0.082, 2.611],
                ATT_TICKS, ".1f", 689, 674, 31, 70, -61,
                [title_layer(PANEL_TITLES[1], 348)])
bl = make_panel(BL_POINTS, BL_FIT, BL_HW, "CBF (ml/100g/min)", [33.19, 92.55], [4.4, 125.18],
                CBF_TICKS, "d", 697, 686, 31, 71, -65)
br = make_panel(BR_POINTS, BR_FIT, BR_HW, "CBF (ml/100g/min)", [32.9, 92.17], [4.8, 126.25],
                CBF_TICKS, "d", 684, 679, 30, 70, -63)

chart = alt.concat(
    tl, tr, bl, br, columns=2, spacing={"row": 123, "column": 307},
    bounds="flush", align="each"
).properties(
    padding=0, background="white"
).configure_view(stroke=None).configure_axis(
    grid=False,
    domainColor="#333333", domainWidth=2,
    tickColor="#333333", tickWidth=2, tickSize=6,
    labelFont=FONT, labelFontSize=29, labelColor="#5c5c5c",
    titleFont=FONT, titleFontSize=34, titleFontWeight="normal", titleColor="#000000",
)

chart.save("out.html", embed_options={"renderer": "svg", "actions": False})
